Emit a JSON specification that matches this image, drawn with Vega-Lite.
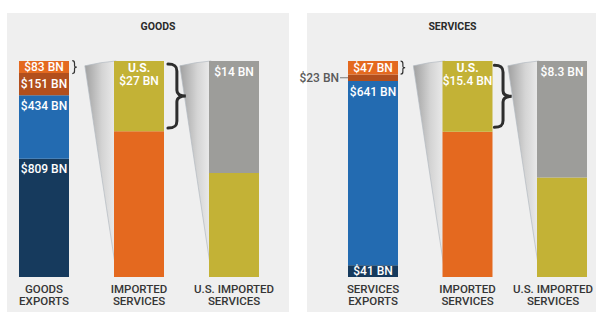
{
  "$schema": "https://vega.github.io/schema/vega-lite/v6.json",
  "background": "white",
  "padding": {"left": 7, "top": 13, "right": 0, "bottom": 0},
  "autosize": {"type": "pad"},
  "bounds": "flush",
  "spacing": 18,
  "config": {"view": {"stroke": null, "fill": "#efefef"}, "font": "Roboto"},
  "data": {"values": [
    {"panel": "Goods", "stage": "Goods exports", "part": "Domestic goods", "value": 809, "order": 1, "label": "$809 BN"},
    {"panel": "Goods", "stage": "Goods exports", "part": "Domestic services", "value": 434, "order": 2, "label": "$434 BN"},
    {"panel": "Goods", "stage": "Goods exports", "part": "Imported goods", "value": 151, "order": 3, "label": "$151 BN"},
    {"panel": "Goods", "stage": "Goods exports", "part": "Imported services", "value": 83, "order": 4, "label": "$83 BN"},
    {"panel": "Goods", "stage": "Imported services", "part": "Non-U.S.", "value": 56, "order": 1, "label": ""},
    {"panel": "Goods", "stage": "Imported services", "part": "U.S.", "value": 27, "order": 2, "label": "$27 BN"},
    {"panel": "Goods", "stage": "U.S. imported services", "part": "U.S. share", "value": 13, "order": 1, "label": ""},
    {"panel": "Goods", "stage": "U.S. imported services", "part": "Remainder", "value": 14, "order": 2, "label": "$14 BN"},
    {"panel": "Services", "stage": "Services exports", "part": "Domestic goods", "value": 41, "order": 1, "label": "$41 BN"},
    {"panel": "Services", "stage": "Services exports", "part": "Domestic services", "value": 641, "order": 2, "label": "$641 BN"},
    {"panel": "Services", "stage": "Services exports", "part": "Imported goods", "value": 23, "order": 3, "label": "$23 BN"},
    {"panel": "Services", "stage": "Services exports", "part": "Imported services", "value": 47, "order": 4, "label": "$47 BN"},
    {"panel": "Services", "stage": "Imported services", "part": "Non-U.S.", "value": 31.6, "order": 1, "label": ""},
    {"panel": "Services", "stage": "Imported services", "part": "U.S.", "value": 15.4, "order": 2, "label": "$15.4 BN"},
    {"panel": "Services", "stage": "U.S. imported services", "part": "U.S. share", "value": 7.1, "order": 1, "label": ""},
    {"panel": "Services", "stage": "U.S. imported services", "part": "Remainder", "value": 8.3, "order": 2, "label": "$8.3 BN"}
  ]},
  "hconcat": [
    {
      "width": 282,
      "height": 299,
      "transform": [
        {"filter": "datum.panel == 'Goods'"},
        {"stack": "value", "groupby": ["stage"], "sort": [{"field": "order", "order": "ascending"}], "offset": "normalize", "as": ["y0", "y1"]},
        {"calculate": "(datum.y0 + datum.y1) / 2", "as": "mid"},
        {"calculate": "datum.y1 - min((datum.y1 - datum.y0) / 2, 0.05)", "as": "ly"},
        {"calculate": "[upper(slice(datum.stage, 0, lastindexof(datum.stage, ' '))), upper(slice(datum.stage, lastindexof(datum.stage, ' ') + 1))]", "as": "lines"}
      ],
      "encoding": {
        "x": {"field": "stage", "type": "nominal", "axis": null,
              "scale": {"type": "band", "domain": ["Goods exports", "Imported services", "U.S. imported services"], "paddingInner": 0.4737, "paddingOuter": 0.221, "align": 0.2857}}
      },
      "layer": [
        {
          "transform": [{"filter": "datum.order == 1 && datum.stage != 'Goods exports'"}],
          "mark": {"type": "point", "shape": "M -0.27,-0.955 Q -0.12,-0.99 0.02,-1 L 0.02,0.95 Z", "size": 46656, "filled": true, "opacity": 1,
                   "fill": {"gradient": "linear", "x1": 0, "y1": 0, "x2": 1, "y2": 0, "stops": [{"offset": 0, "color": "#a0a0a0"}, {"offset": 0.55, "color": "#d4d4d4"}, {"offset": 1, "color": "#ececec"}]},
                   "stroke": "#b3bac2", "strokeWidth": 0.7},
          "encoding": {
            "x": {"field": "stage", "type": "nominal", "bandPosition": 0},
            "y": {"datum": 0.5, "type": "quantitative", "axis": null, "scale": {"domain": [-0.162, 1.222], "nice": false, "zero": false}}
          }
        },
        {
          "mark": {"type": "bar"},
          "encoding": {
            "y": {"field": "y0", "type": "quantitative"},
            "y2": {"field": "y1"},
            "color": {"field": "part", "type": "nominal", "legend": null,
                      "scale": {"domain": ["Domestic goods", "Domestic services", "Imported goods", "Imported services", "Non-U.S.", "U.S.", "U.S. share", "Remainder"],
                                "range": ["#163a5d", "#236bb1", "#b24f1d", "#e4691f", "#e4691f", "#c3b236", "#c3b236", "#9d9d9a"]}}
          }
        },
        {
          "transform": [{"filter": "datum.part == 'Imported services' && datum.stage == 'Goods exports'"}],
          "mark": {"type": "point", "shape": "M 0.5,-1 C 0.8,-1 0.85,-0.9 0.85,-0.6 L 0.85,-0.25 C 0.85,-0.05 0.95,0 1.2,0 C 0.95,0 0.85,0.05 0.85,0.25 L 0.85,0.6 C 0.85,0.9 0.8,1 0.5,1", "size": 169, "filled": false, "opacity": 1, "stroke": "#333333", "strokeWidth": 1.2},
          "encoding": {
            "x": {"field": "stage", "type": "nominal", "bandPosition": 1},
            "y": {"field": "mid", "type": "quantitative"}
          }
        },
        {
          "transform": [{"filter": "datum.part == 'U.S.'"}],
          "mark": {"type": "point", "shape": "M 0.06,-1 C 0.28,-1 0.34,-0.93 0.34,-0.78 L 0.34,-0.18 C 0.34,-0.05 0.45,0 0.62,0 C 0.45,0 0.34,0.05 0.34,0.18 L 0.34,0.78 C 0.34,0.93 0.28,1 0.06,1", "size": 4096, "filled": false, "opacity": 1, "stroke": "#2d2d2d", "strokeWidth": 3, "strokeCap": "round", "xOffset": 2},
          "encoding": {
            "x": {"field": "stage", "type": "nominal", "bandPosition": 1},
            "y": {"field": "mid", "type": "quantitative"}
          }
        },
        {
          "transform": [{"filter": "datum.label != '' && datum.part != 'U.S.' && (datum.y1 - datum.y0) >= 0.04"}],
          "mark": {"type": "text", "color": "white", "fontSize": 12, "fontWeight": 500, "baseline": "middle", "align": "center"},
          "encoding": {
            "y": {"field": "ly", "type": "quantitative"},
            "text": {"field": "label"}
          }
        },
        {
          "transform": [{"filter": "datum.part == 'U.S.'"}],
          "mark": {"type": "text", "color": "white", "fontSize": 12, "fontWeight": "bold", "baseline": "middle", "align": "center", "dy": -4},
          "encoding": {
            "y": {"field": "ly", "type": "quantitative"},
            "text": {"field": "part"}
          }
        },
        {
          "transform": [{"filter": "datum.part == 'U.S.'"}],
          "mark": {"type": "text", "color": "white", "fontSize": 12, "fontWeight": 500, "baseline": "middle", "align": "center", "dy": 9},
          "encoding": {
            "y": {"field": "ly", "type": "quantitative"},
            "text": {"field": "label"}
          }
        },
        {
          "transform": [{"filter": "datum.order == 1"}],
          "mark": {"type": "text", "color": "#353535", "fontSize": 11.5, "fontWeight": 500, "baseline": "middle", "align": "center", "lineHeight": 12.5},
          "encoding": {
            "y": {"datum": -0.06, "type": "quantitative"},
            "text": {"field": "lines"}
          }
        },
        {
          "transform": [{"filter": "datum.order == 1 && datum.stage == 'Imported services'"}, {"calculate": "upper(datum.panel)", "as": "ttl"}],
          "mark": {"type": "text", "color": "#2a2a2a", "fontSize": 10.5, "fontWeight": "bold", "baseline": "middle", "align": "center", "dx": 19},
          "encoding": {
            "y": {"datum": 1.157, "type": "quantitative"},
            "text": {"field": "ttl"}
          }
        }
      ]
    },
    {
      "width": 289,
      "height": 299,
      "transform": [
        {"filter": "datum.panel == 'Services'"},
        {"stack": "value", "groupby": ["stage"], "sort": [{"field": "order", "order": "ascending"}], "offset": "normalize", "as": ["y0", "y1"]},
        {"calculate": "(datum.y0 + datum.y1) / 2", "as": "mid"},
        {"calculate": "datum.y1 - min((datum.y1 - datum.y0) / 2, 0.05)", "as": "ly"},
        {"calculate": "[upper(slice(datum.stage, 0, lastindexof(datum.stage, ' '))), upper(slice(datum.stage, lastindexof(datum.stage, ' ') + 1))]", "as": "lines"}
      ],
      "encoding": {
        "x": {"field": "stage", "type": "nominal", "axis": null,
              "scale": {"type": "band", "domain": ["Services exports", "Imported services", "U.S. imported services"], "paddingInner": 0.471, "paddingOuter": 0.2646, "align": 0.82}}
      },
      "layer": [
        {
          "transform": [{"filter": "datum.order == 1 && datum.stage != 'Services exports'"}],
          "mark": {"type": "point", "shape": "M -0.27,-0.955 Q -0.12,-0.99 0.02,-1 L 0.02,0.95 Z", "size": 46656, "filled": true, "opacity": 1,
                   "fill": {"gradient": "linear", "x1": 0, "y1": 0, "x2": 1, "y2": 0, "stops": [{"offset": 0, "color": "#a0a0a0"}, {"offset": 0.55, "color": "#d4d4d4"}, {"offset": 1, "color": "#ececec"}]},
                   "stroke": "#b3bac2", "strokeWidth": 0.7},
          "encoding": {
            "x": {"field": "stage", "type": "nominal", "bandPosition": 0},
            "y": {"datum": 0.5, "type": "quantitative", "axis": null, "scale": {"domain": [-0.162, 1.222], "nice": false, "zero": false}}
          }
        },
        {
          "mark": {"type": "bar"},
          "encoding": {
            "y": {"field": "y0", "type": "quantitative"},
            "y2": {"field": "y1"},
            "color": {"field": "part", "type": "nominal", "legend": null,
                      "scale": {"domain": ["Domestic goods", "Domestic services", "Imported goods", "Imported services", "Non-U.S.", "U.S.", "U.S. share", "Remainder"],
                                "range": ["#163a5d", "#236bb1", "#b24f1d", "#e4691f", "#e4691f", "#c3b236", "#c3b236", "#9d9d9a"]}}
          }
        },
        {
          "transform": [{"filter": "datum.part == 'Imported services' && datum.stage == 'Services exports'"}],
          "mark": {"type": "point", "shape": "M 0.4,-1 C 0.7,-1 0.75,-0.9 0.75,-0.6 L 0.75,-0.25 C 0.75,-0.05 0.85,0 1.1,0 C 0.85,0 0.75,0.05 0.75,0.25 L 0.75,0.6 C 0.75,0.9 0.7,1 0.4,1", "size": 169, "filled": false, "opacity": 1, "stroke": "#333333", "strokeWidth": 1.2},
          "encoding": {
            "x": {"field": "stage", "type": "nominal", "bandPosition": 1},
            "y": {"field": "mid", "type": "quantitative"}
          }
        },
        {
          "transform": [{"filter": "datum.part == 'U.S.'"}],
          "mark": {"type": "point", "shape": "M 0.06,-1 C 0.28,-1 0.34,-0.93 0.34,-0.78 L 0.34,-0.18 C 0.34,-0.05 0.45,0 0.62,0 C 0.45,0 0.34,0.05 0.34,0.18 L 0.34,0.78 C 0.34,0.93 0.28,1 0.06,1", "size": 3844, "filled": false, "opacity": 1, "stroke": "#2d2d2d", "strokeWidth": 3, "strokeCap": "round"},
          "encoding": {
            "x": {"field": "stage", "type": "nominal", "bandPosition": 1},
            "y": {"field": "mid", "type": "quantitative"}
          }
        },
        {
          "transform": [{"filter": "datum.label != '' && (datum.y1 - datum.y0) < 0.04"}],
          "mark": {"type": "point", "shape": "M -1,0 L 0,0", "size": 256, "filled": false, "opacity": 1, "stroke": "#777777", "strokeWidth": 1},
          "encoding": {
            "x": {"field": "stage", "type": "nominal", "bandPosition": 0},
            "y": {"field": "mid", "type": "quantitative"}
          }
        },
        {
          "transform": [{"filter": "datum.label != '' && (datum.y1 - datum.y0) < 0.04"}],
          "mark": {"type": "text", "color": "#5a5a5a", "fontSize": 12, "fontWeight": 500, "baseline": "middle", "align": "right", "dx": -9},
          "encoding": {
            "x": {"field": "stage", "type": "nominal", "bandPosition": 0},
            "y": {"field": "mid", "type": "quantitative"},
            "text": {"field": "label"}
          }
        },
        {
          "transform": [{"filter": "datum.label != '' && datum.part != 'U.S.' && (datum.y1 - datum.y0) >= 0.04"}],
          "mark": {"type": "text", "color": "white", "fontSize": 12, "fontWeight": 500, "baseline": "middle", "align": "center"},
          "encoding": {
            "y": {"field": "ly", "type": "quantitative"},
            "text": {"field": "label"}
          }
        },
        {
          "transform": [{"filter": "datum.part == 'U.S.'"}],
          "mark": {"type": "text", "color": "white", "fontSize": 12, "fontWeight": "bold", "baseline": "middle", "align": "center", "dy": -4},
          "encoding": {
            "y": {"field": "ly", "type": "quantitative"},
            "text": {"field": "part"}
          }
        },
        {
          "transform": [{"filter": "datum.part == 'U.S.'"}],
          "mark": {"type": "text", "color": "white", "fontSize": 12, "fontWeight": 500, "baseline": "middle", "align": "center", "dy": 9},
          "encoding": {
            "y": {"field": "ly", "type": "quantitative"},
            "text": {"field": "label"}
          }
        },
        {
          "transform": [{"filter": "datum.order == 1 && datum.stage != 'U.S. imported services'"}],
          "mark": {"type": "text", "color": "#353535", "fontSize": 11.5, "fontWeight": 500, "baseline": "middle", "align": "center", "lineHeight": 12.5},
          "encoding": {
            "y": {"datum": -0.06, "type": "quantitative"},
            "text": {"field": "lines"}
          }
        },
        {
          "transform": [{"filter": "datum.order == 1 && datum.stage == 'U.S. imported services'"}],
          "mark": {"type": "text", "color": "#353535", "fontSize": 11.5, "fontWeight": 500, "baseline": "middle", "align": "center", "lineHeight": 12.5, "dx": -9},
          "encoding": {
            "y": {"datum": -0.06, "type": "quantitative"},
            "text": {"field": "lines"}
          }
        },
        {
          "transform": [{"filter": "datum.order == 1 && datum.stage == 'Imported services'"}, {"calculate": "upper(datum.panel)", "as": "ttl"}],
          "mark": {"type": "text", "color": "#2a2a2a", "fontSize": 10.5, "fontWeight": "bold", "baseline": "middle", "align": "center", "dx": -15},
          "encoding": {
            "y": {"datum": 1.157, "type": "quantitative"},
            "text": {"field": "ttl"}
          }
        }
      ]
    }
  ]
}
